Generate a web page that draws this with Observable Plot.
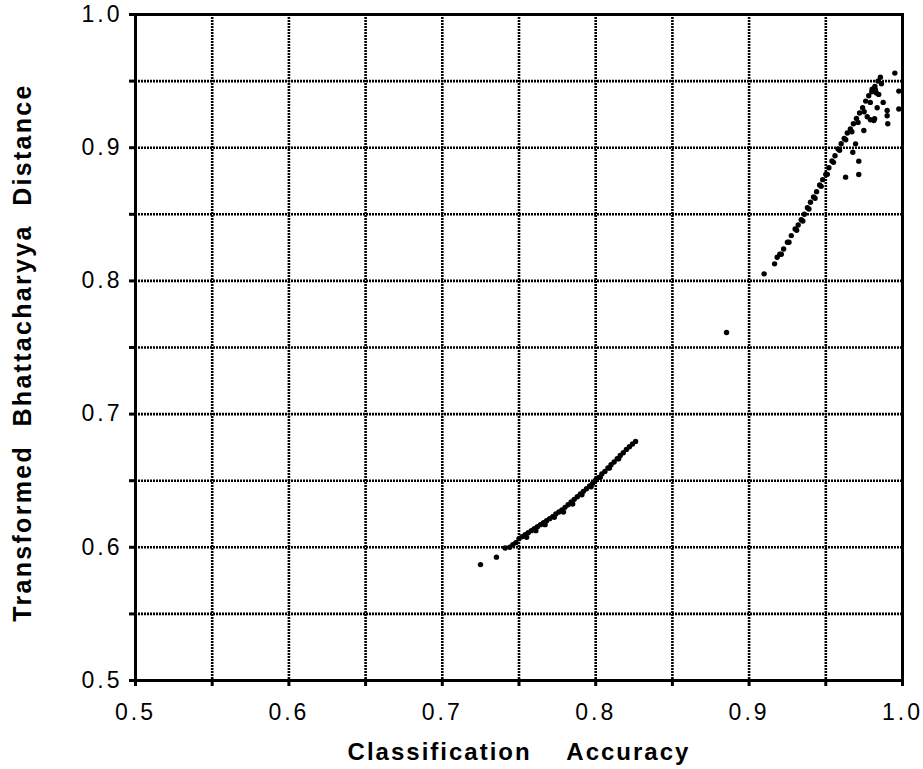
<!DOCTYPE html>
<html>
<head>
<meta charset="utf-8">
<script src="https://cdn.jsdelivr.net/npm/d3@7"></script>
<script src="https://cdn.jsdelivr.net/npm/@observablehq/plot@0.6"></script>
<style>
  html, body { margin: 0; padding: 0; background: #fff; }
  #chart svg { display: block; }
  #chart g[aria-label="x-axis tick label"] text,
  #chart g[aria-label="y-axis tick label"] text { font-size: 23px; letter-spacing: 3px; }
  #chart g[aria-label="text"] text { letter-spacing: 2px; }
  #chart g[aria-label="text"]:last-of-type text { letter-spacing: 2.3px; }
</style>
</head>
<body>
<div id="chart"></div>
<script>
// ---- data ----
const xLabel = "Classification\u00a0\u00a0\u00a0\u00a0Accuracy";
const yLabel = "Transformed\u00a0\u00a0Bhattacharyya\u00a0\u00a0Distance";
const xTicks = [0.5, 0.6, 0.7, 0.8, 0.9, 1.0];
const yTicks = [0.5, 0.6, 0.7, 0.8, 0.9, 1.0];
const minorTicks = [0.55, 0.65, 0.75, 0.85, 0.95];
const gridLines = [0.55, 0.6, 0.65, 0.7, 0.75, 0.8, 0.85, 0.9, 0.95];

// lower cluster (classification accuracy, transformed distance)
const lowX = [0.7249, 0.7353, 0.741, 0.744, 0.746, 0.748, 0.750, 0.752, 0.754, 0.756,
  0.758, 0.760, 0.762, 0.764, 0.766, 0.768, 0.770, 0.772, 0.774, 0.776,
  0.778, 0.780, 0.782, 0.784, 0.786, 0.788, 0.790, 0.792, 0.794, 0.796,
  0.798, 0.800, 0.802, 0.804, 0.806, 0.808, 0.810, 0.812, 0.814, 0.816,
  0.818, 0.820, 0.822, 0.824, 0.826,
  0.755, 0.761, 0.767, 0.773, 0.779, 0.785, 0.791, 0.797, 0.803, 0.809, 0.815];
const lowY = [0.587, 0.5926, 0.5995, 0.600, 0.602, 0.6035, 0.6065, 0.608, 0.6095, 0.611,
  0.6125, 0.614, 0.6155, 0.617, 0.6185, 0.620, 0.6215, 0.623, 0.625, 0.6265,
  0.628, 0.630, 0.632, 0.634, 0.636, 0.638, 0.640, 0.642, 0.644, 0.646,
  0.648, 0.6505, 0.6525, 0.655, 0.657, 0.6595, 0.662, 0.664, 0.6665, 0.669,
  0.671, 0.6735, 0.6755, 0.6775, 0.6795,
  0.6075, 0.6125, 0.617, 0.6225, 0.6265, 0.6325, 0.6395, 0.6455, 0.6525, 0.6595, 0.6665];

// upper cluster
const highX = [0.8853, 0.9098, 0.9166, 0.9183, 0.9200, 0.9225, 0.925, 0.9275, 0.930, 0.932,
  0.934, 0.936, 0.938, 0.940, 0.942, 0.944, 0.946, 0.948, 0.950, 0.952,
  0.954, 0.956, 0.958, 0.960, 0.962, 0.964, 0.966, 0.968, 0.970, 0.972,
  0.974, 0.976, 0.978, 0.980, 0.982, 0.984, 0.9856, 0.995,
  0.9629, 0.9715, 0.9715, 0.9676, 0.9694, 0.9748, 0.9813, 0.9791, 0.9904, 0.990,
  0.9874, 0.9845, 0.9802, 0.990, 0.9976, 0.9976, 0.9863, 0.9824, 0.9835, 0.9818, 0.977,
  0.921, 0.926, 0.931, 0.935, 0.939, 0.943, 0.947, 0.951, 0.955, 0.959,
  0.963, 0.967, 0.971, 0.975, 0.979, 0.983];
const highY = [0.7613, 0.8053, 0.8128, 0.8178, 0.820, 0.824, 0.829, 0.834, 0.839, 0.842,
  0.846, 0.850, 0.855, 0.859, 0.863, 0.867, 0.872, 0.876, 0.880, 0.885,
  0.890, 0.894, 0.899, 0.903, 0.907, 0.911, 0.914, 0.918, 0.922, 0.926,
  0.930, 0.935, 0.939, 0.942, 0.946, 0.950, 0.9529, 0.956,
  0.8779, 0.8799, 0.8899, 0.8966, 0.9029, 0.9129, 0.9204, 0.921, 0.918, 0.924,
  0.934, 0.940, 0.944, 0.9279, 0.929, 0.9425, 0.948, 0.9434, 0.930, 0.9217, 0.9232,
  0.820, 0.829, 0.838, 0.845, 0.854, 0.862, 0.871, 0.880, 0.889, 0.898,
  0.906, 0.912, 0.919, 0.927, 0.934, 0.941];

const points = [
  ...lowX.map((x, i) => ({x, y: lowY[i]})),
  ...highX.map((x, i) => ({x, y: highY[i]}))
];

const FONT = "'Liberation Sans', Arial, Helvetica, sans-serif";

const chart = Plot.plot({
  width: 923,
  height: 769,
  marginLeft: 135,
  marginRight: 21,
  marginTop: 14,
  marginBottom: 89,
  style: {fontFamily: FONT, background: "#fff", color: "#000"},
  x: {domain: [0.5, 1.0]},
  y: {domain: [0.5, 1.0]},
  marks: [
    Plot.ruleX(gridLines, {stroke: "#000", strokeWidth: 2.6, strokeDasharray: "2,1"}),
    Plot.ruleY(gridLines, {stroke: "#000", strokeWidth: 2.6, strokeDasharray: "2,1"}),
    Plot.axisX(xTicks, {tickSize: 6, tickPadding: 17, fontSize: 23, label: null, tickFormat: d => d.toFixed(1), strokeWidth: 3}),
    Plot.axisX(minorTicks, {tickSize: 6, tickFormat: () => "", label: null, strokeWidth: 3}),
    Plot.axisY(yTicks, {tickSize: 6, tickPadding: 7, fontSize: 23, label: null, tickFormat: d => d.toFixed(1), strokeWidth: 3}),
    Plot.axisY(minorTicks, {tickSize: 6, tickFormat: () => "", label: null, strokeWidth: 3}),
    Plot.frame({stroke: "#000", strokeWidth: 3}),
    Plot.dot(points, {x: "x", y: "y", r: 2.7, fill: "#000", stroke: null}),
    Plot.text([xLabel], {frameAnchor: "bottom", lineAnchor: "middle", textAnchor: "middle", dy: 72, fontSize: 24, fontWeight: "bold", fill: "#000"}),
    Plot.text([yLabel], {frameAnchor: "left", textAnchor: "middle", lineAnchor: "middle", dx: -113, dy: 5, rotate: -90, fontSize: 25, fontWeight: "bold", fill: "#000"})
  ]
});
document.getElementById("chart").appendChild(chart);
</script>
</body>
</html>
